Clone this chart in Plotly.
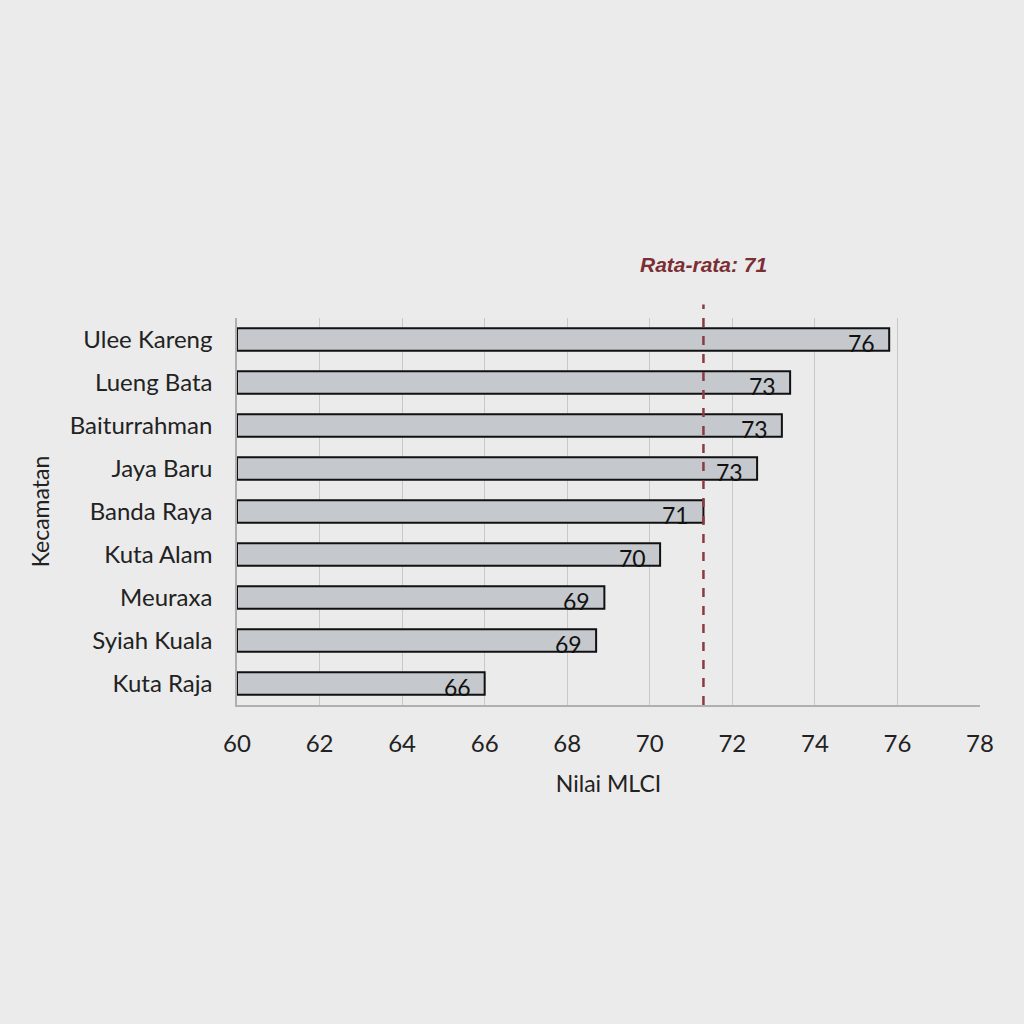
import plotly.graph_objects as go

categories = ["Ulee Kareng", "Lueng Bata", "Baiturrahman", "Jaya Baru", "Banda Raya",
              "Kuta Alam", "Meuraxa", "Syiah Kuala", "Kuta Raja"]
values = [75.8, 73.4, 73.2, 72.6, 71.3, 70.25, 68.9, 68.7, 66.0]
labels = ["76", "73", "73", "73", "71", "70", "69", "69", "66"]
mean_value = 71.3
mean_label = "Rata-rata: 71"
x_ticks = [60, 62, 64, 66, 68, 70, 72, 74, 76, 78]

bg = "#EAEBEA"
font_main = "Lato, Open Sans, sans-serif"
fig = go.Figure()
fig.add_trace(go.Bar(
    y=categories, x=[v - 60 for v in values], base=60, orientation="h",
    marker=dict(color="#C5C9CD", line=dict(color="#111111", width=2)),
    width=0.52, hoverinfo="skip",
))
for cat, val, lab in zip(categories, values, labels):
    fig.add_annotation(x=val, y=cat, xref="x", yref="y", text=lab, showarrow=False,
                       xanchor="right", yanchor="middle", xshift=-12, yshift=-3,
                       font=dict(family=font_main, size=23, color="#111111"))
fig.add_shape(type="line", x0=mean_value, x1=mean_value, xref="x", yref="paper",
              y0=0, y1=1.035, line=dict(color="#8B3A42", width=2.5, dash="dash"))
fig.add_annotation(x=mean_value, xref="x", y=1.137, yref="paper", yanchor="middle",
                   text="<b><i>" + mean_label + "</i></b>", showarrow=False,
                   font=dict(family="Liberation Sans Narrow, Arial Narrow, sans-serif",
                             size=21, color="#7B2E35"))
fig.update_layout(
    width=1024, height=1024, paper_bgcolor=bg, plot_bgcolor=bg,
    margin=dict(l=237, r=44, t=318, b=319),
    showlegend=False, bargap=0.48,
    font=dict(family=font_main, color="#222222"),
)
fig.update_xaxes(range=[60, 78], tickvals=x_ticks, showgrid=True, gridcolor="#C8C8C8", gridwidth=1,
                 zeroline=False, showline=True, linecolor="#B0B0B0", linewidth=1.5,
                 tickfont=dict(size=24, color="#222222"), ticklabelstandoff=16,
                 title=dict(text="Nilai MLCI", font=dict(size=23, color="#222222"), standoff=20))
fig.update_yaxes(categoryorder="array", categoryarray=categories[::-1], autorange=False,
                 range=[-0.5, len(categories) - 0.5], showgrid=False, zeroline=False,
                 showline=True, linecolor="#B0B0B0", linewidth=1.5,
                 tickfont=dict(size=24, color="#222222"), ticklabelstandoff=18,
                 title=dict(text="Kecamatan", font=dict(size=23, color="#222222"), standoff=14))
fig.write_html("out.html", config={"displayModeBar": False},
               post_script="document.body.style.margin='0';document.body.style.background='%s';" % bg)
